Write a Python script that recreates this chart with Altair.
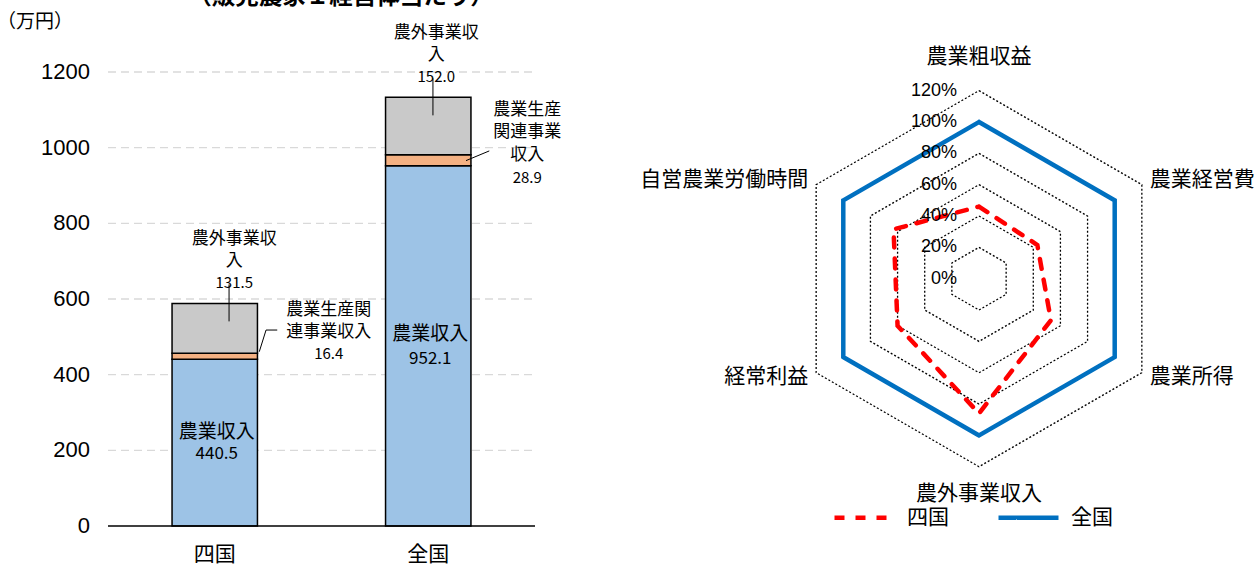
import altair as alt
import pandas as pd

JP = "Noto Sans CJK JP"
LAT = "Liberation Sans"

# ---------------- data ----------------
title_text = "（販売農家１経営体当たり）"
y_unit = "（万円）"

countries = ["四国", "全国"]
income_items = ["農業収入", "農業生産関連事業収入", "農外事業収入"]
shikoku_income = [440.5, 16.4, 131.5]
zenkoku_income = [952.1, 28.9, 152.0]
item_colors = ["#9DC3E6", "#F4B183", "#C9C9C9"]
y_ticks = [0, 200, 400, 600, 800, 1000, 1200]

radar_axes = ["農業粗収益", "農業経営費", "農業所得", "農外事業収入", "経常利益", "自営農業労働時間"]
shikoku_ratio = [46, 43, 53, 86, 60, 63]
zenkoku_ratio = [100, 100, 100, 100, 100, 100]
ring_levels = [20, 40, 60, 80, 100, 120]
ring_ticks = [0, 20, 40, 60, 80, 100, 120]
series_names = ["四国", "全国"]
series_colors = ["#FF0000", "#0070C0"]

# ---------------- tables ----------------
bar_rows = []
for country, vals in zip(countries, [shikoku_income, zenkoku_income]):
    for i, (item, v) in enumerate(zip(income_items, vals)):
        bar_rows.append({"country": country, "item": item, "value": v, "order": i})
bar_df = pd.DataFrame(bar_rows)

series_rows = []
for name, vals in zip(series_names, [shikoku_ratio, zenkoku_ratio]):
    for k in range(len(vals) + 1):  # close the polygon
        series_rows.append({"series": name, "k": k, "value": vals[k % len(vals)]})
series_df = pd.DataFrame(series_rows)

ring_df = pd.DataFrame([{"level": lv, "k": k} for lv in ring_levels for k in range(7)])
tick_df = pd.DataFrame({"tick": ring_ticks})
axis_df = pd.DataFrame({"name": radar_axes, "k": list(range(len(radar_axes)))})
ytick_df = pd.DataFrame({"tick": y_ticks})
country_df = pd.DataFrame({"country": countries})

# ---------------- left: stacked bars ----------------
PLOT_L, PLOT_R = 108, 535
x_bar_scale = alt.Scale(domain=countries, range=[PLOT_L, PLOT_R], paddingInner=0.6, paddingOuter=0.3)
y_bar_scale = alt.Scale(domain=[0, 1200], range=[526, 72], nice=False, zero=True)
x_band = alt.X("country:N", scale=x_bar_scale, axis=None)

grid = alt.Chart(ytick_df).transform_filter(alt.datum.tick > 0).mark_rule(
    color="#D9D9D9", strokeWidth=1.3, strokeDash=[8, 5]
).encode(y=alt.Y("tick:Q", scale=y_bar_scale, axis=None), x=alt.value(PLOT_L), x2=alt.value(PLOT_R))

y_labels = alt.Chart(ytick_df).mark_text(
    align="right", baseline="middle", font=LAT, fontSize=22, color="black"
).encode(y=alt.Y("tick:Q", scale=y_bar_scale, axis=None), x=alt.value(PLOT_L - 18), text="tick:Q")

baseline = alt.Chart(ytick_df).transform_filter(alt.datum.tick == 0).mark_rule(
    color="black", strokeWidth=1.5
).encode(y=alt.Y("tick:Q", scale=y_bar_scale, axis=None), x=alt.value(PLOT_L), x2=alt.value(PLOT_R))

x_labels = alt.Chart(country_df).mark_text(
    align="center", baseline="middle", font=JP, fontSize=21, color="black"
).encode(x=x_band, y=alt.value(555), text="country:N")

unit_label = alt.Chart(pd.DataFrame({"t": [y_unit]})).mark_text(
    align="left", baseline="middle", font=JP, fontSize=19, color="black"
).encode(x=alt.value(-3), y=alt.value(22), text="t:N")

bars = alt.Chart(bar_df).mark_bar(stroke="black", strokeWidth=1.5).encode(
    x=x_band,
    y=alt.Y("value:Q", stack="zero", scale=y_bar_scale, axis=None),
    color=alt.Color("item:N", scale=alt.Scale(domain=income_items, range=item_colors), legend=None),
    order=alt.Order("order:Q"),
)

stacked = alt.Chart(bar_df).transform_stack(
    stack="value", groupby=["country"], as_=["y0", "y1"], sort=[alt.SortField("order")]
).transform_calculate(mid="(datum.y0 + datum.y1) / 2")

# label placement: country, item, anchor field, dx, wrapped name lines as (text, dy, size),
# value (dy, size), leader segments (dx1, dy1, dx2, dy2) -- all offsets in pixels
bar_notes = [
    ("四国", "農業収入", "mid", 2, [("農業収入", -11, 19)], (11, 17), []),
    ("四国", "農業生産関連事業収入", "mid", 114,
     [("農業生産関", -46.2, 17), ("連事業収入", -24.5, 17)], (-2.2, 15),
     [(44.5, -4.5, 51.3, -26.2), (51.3, -26.2, 62.5, -26.2)]),
    ("四国", "農外事業収入", "y1", 19.5,
     [("農外事業収", -64.5, 17), ("入", -42, 17)], (-20.5, 15),
     [(14.3, -19, 14.3, 18)]),
    ("全国", "農業収入", "mid", 2, [("農業収入", -12, 19)], (13, 17), []),
    ("全国", "農業生産関連事業収入", "mid", 99,
     [("農業生産", -50.4, 17), ("関連事業", -28.4, 17), ("収入", -5.4, 17)], (17.6, 15),
     [(37.75, 0.3, 61, -9.4)]),
    ("全国", "農外事業収入", "y1", 8,
     [("農外事業収", -64.5, 17), ("入", -42, 17)], (-20.5, 15),
     [(4.7, -19, 4.7, 18)]),
]

note_layers = []
for country, item, anchor, dx, name_lines, (vdy, vsize), segs in bar_notes:
    src = stacked.transform_filter((alt.datum.country == country) & (alt.datum.item == item))
    ye = alt.Y(f"{anchor}:Q", scale=y_bar_scale, axis=None)
    for txt, ndy, nsize in name_lines:
        note_layers.append(
            src.mark_text(text=txt, font=JP, fontSize=nsize, color="black",
                          align="center", baseline="middle", dx=dx, dy=ndy)
            .encode(x=x_band, y=ye)
        )
    note_layers.append(
        src.mark_text(font=JP, fontSize=vsize, color="black", align="center",
                      baseline="middle", dx=dx, dy=vdy)
        .encode(x=x_band, y=ye, text=alt.Text("value:Q", format=".1f"))
    )
    for dx1, dy1, dx2, dy2 in segs:
        note_layers.append(
            src.mark_rule(color="black", strokeWidth=1, xOffset=dx1, x2Offset=dx2,
                          yOffset=dy1, y2Offset=dy2)
            .encode(x=alt.X("country:N", scale=x_bar_scale, axis=None, bandPosition=0.5),
                    x2=alt.X2("country:N", bandPosition=0.5),
                    y=ye, y2=alt.Y2(f"{anchor}:Q"))
        )

left = alt.layer(grid, bars, baseline, y_labels, x_labels, unit_label, *note_layers)

# ---------------- right: radar ----------------
cx, cy, r100 = 979, 278.7, 156.7
rx = alt.Scale(domain=[-100, 100], range=[cx - r100, cx + r100], nice=False, zero=False)
ry = alt.Scale(domain=[-100, 100], range=[cy + r100, cy - r100], nice=False, zero=False)
xr = alt.X("px:Q", scale=rx, axis=None)
yr = alt.Y("py:Q", scale=ry, axis=None)

rings = alt.Chart(ring_df).transform_calculate(
    px="datum.level * sin(datum.k * PI / 3)", py="datum.level * cos(datum.k * PI / 3)"
).mark_line(color="black", strokeWidth=1.3, strokeDash=[2, 2]).encode(
    x=xr, y=yr, detail="level:N", order="k:Q"
)

legend = alt.Legend(title=None, orient="none", legendX=832, legendY=485, direction="horizontal",
                    symbolType="stroke", symbolSize=3600, symbolStrokeWidth=4.5,
                    labelFont=JP, labelFontSize=21, labelColor="black", labelOffset=10,
                    columnPadding=40, padding=0)

lines = alt.Chart(series_df).transform_calculate(
    px="datum.value * sin(datum.k * PI / 3)", py="datum.value * cos(datum.k * PI / 3)"
).mark_line(strokeWidth=4.5, strokeCap="round", strokeJoin="miter").encode(
    x=xr, y=yr,
    color=alt.Color("series:N", scale=alt.Scale(domain=series_names, range=series_colors), legend=legend),
    strokeDash=alt.StrokeDash("series:N", scale=alt.Scale(domain=series_names, range=[[10, 11], [1, 0]]),
                              legend=legend),
    order="k:Q",
)

ticks = alt.Chart(tick_df).transform_calculate(
    px="0", py="datum.tick", label="datum.tick + '%'"
).mark_text(align="right", baseline="middle", dx=-22, font=LAT, fontSize=18, color="black").encode(
    x=xr, y=yr, text="label:N"
)

# category label placement per spoke: align, dx, dy
spoke_layout = {0: ("center", 0, -34), 1: ("left", 8, -5), 2: ("left", 8, 4),
                3: ("center", 0, 27), 4: ("right", -8, 4), 5: ("right", -8, -5)}
cat_layers = []
for k, (al, dx, dy) in spoke_layout.items():
    cat_layers.append(
        alt.Chart(axis_df).transform_filter(alt.datum.k == k).transform_calculate(
            px="120 * sin(datum.k * PI / 3)", py="120 * cos(datum.k * PI / 3)"
        ).mark_text(align=al, baseline="middle", dx=dx, dy=dy, font=JP, fontSize=21, color="black")
        .encode(x=xr, y=yr, text="name:N")
    )

right = alt.layer(rings, lines, ticks, *cat_layers)

# ---------------- heading ----------------
heading = alt.Chart(pd.DataFrame({"t": [title_text]})).mark_text(
    font=JP, fontSize=23.5, fontWeight="bold", align="center", baseline="alphabetic", color="black"
).encode(x=alt.value(341), y=alt.value(4), text="t:N")

chart = alt.layer(left, right, heading).resolve_scale(
    x="independent", y="independent", color="independent", strokeDash="independent"
).properties(
    width=1256, height=564, autosize=alt.AutoSizeParams(type="none"), padding=0, background="white"
).configure_view(stroke=None)

chart.save("out.html", embed_options={"renderer": "svg", "actions": False})
